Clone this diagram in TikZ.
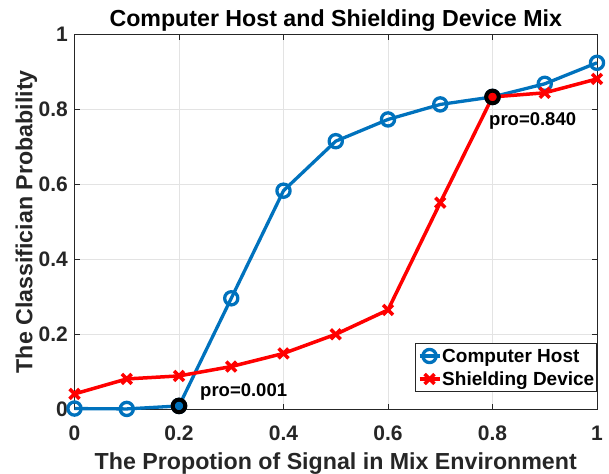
\documentclass[tikz,border=0pt]{standalone}
\usepackage{fontspec}
\setmainfont{Liberation Sans}
\usepackage{tikz}
\usetikzlibrary{plotmarks}

\definecolor{hostblue}{rgb}{0,0.447,0.741}
\definecolor{axisgray}{rgb}{0.15,0.15,0.15}
\definecolor{gridgray}{rgb}{0.89,0.89,0.89}
\newcommand\tickfont{\fontsize{21}{25}\selectfont}
\newcommand\axlabelfont{\fontsize{23.2}{27}\selectfont}
\newcommand\legfont{\fontsize{19}{23}\selectfont}
\newcommand\annfont{\fontsize{18.5}{22}\selectfont}

\begin{document}
\begin{tikzpicture}[x=522.5pt, y=375pt, font=\bfseries,
    hostline/.style={draw=hostblue, line width=3.3pt, line join=round},
    shieldline/.style={draw=red, line width=3.5pt, line join=round},
    axtick/.style={draw=axisgray, line width=0.9pt},
    hilite/.style={draw=black, line width=4pt}]
    \useasboundingbox (-0.1426,-0.1699) rectangle (1.0230,1.0915);
    % grid and box
    \foreach \t in {0.2,0.4,0.6,0.8} {
        \draw[gridgray, line width=0.9pt] (\t,0) -- (\t,1);
        \draw[gridgray, line width=0.9pt] (0,\t) -- (1,\t);
    }
    \draw[axtick] (0,0) rectangle (1,1);
    \foreach \t/\l [count=\i] in {0/0,0.2/0.2,0.4/0.4,0.6/0.6,0.8/0.8,1/1} {
        \draw[axtick] (\t,0) -- ++(0,5.2pt);
        \draw[axtick] (\t,1) -- ++(0,-5.2pt);
        \draw[axtick] (0,\t) -- ++(5.2pt,0);
        \draw[axtick] (1,\t) -- ++(-5.2pt,0);
        \node[anchor=base, inner sep=0, text=axisgray, font=\bfseries\tickfont] (xt\i) at (\t,-0.0819) {\l};
        \node[anchor=east, inner sep=0, text=axisgray, font=\bfseries\tickfont] (yt\i) at ([xshift=-6.5pt]0,\t) {\l};
    }
    \node[anchor=base, inner sep=0, font=\bfseries\axlabelfont] (title) at (0.5,1.0195) {Computer Host and Shielding Device Mix};
    \node[anchor=base, inner sep=0, text=axisgray, font=\bfseries\axlabelfont] (xlabel) at (0.5,-0.1605) {The Propotion of Signal in Mix Environment};
    \node[anchor=base, inner sep=0, rotate=90, text=axisgray, font=\bfseries\axlabelfont] (ylabel) at (-0.0804,0.5) {The Classifician Probability};
    % data
    \draw[hostline] plot[mark=o, mark size=6.6pt] coordinates {
        (0,0.002) (0.1,0.001) (0.2,0.009) (0.3,0.296) (0.4,0.583) (0.5,0.715)
        (0.6,0.773) (0.7,0.813) (0.8,0.833) (0.9,0.868) (1,0.924)};
    \draw[shieldline] plot[mark=x, mark size=7pt] coordinates {
        (0,0.041) (0.1,0.081) (0.2,0.089) (0.3,0.114) (0.4,0.149) (0.5,0.2)
        (0.6,0.265) (0.7,0.551) (0.8,0.833) (0.9,0.844) (1,0.881)};
    \draw[hilite, fill=hostblue] (0.2,0.009) circle (6.3pt);
    \draw[hilite, fill=red] (0.8,0.833) circle (6.3pt);
    \node[anchor=base west, inner sep=0, font=\bfseries\annfont] (lowpro) at (0.2402,0.0336) {pro=0.001};
    \node[anchor=base west, inner sep=0, font=\bfseries\annfont] (highpro) at (0.7933,0.758) {pro=0.840};
    % legend
    \node[draw=axisgray, fill=white, line width=0.9pt, inner sep=0, minimum width=181pt,
        minimum height=48pt, anchor=north east] (legbox) at (1,0.1768) {};
    \draw[hostline] (0.6603,0.1421) -- (0.6996,0.1421);
    \path[hostline] plot[mark=o, mark size=6.6pt] coordinates {(0.6795,0.1421)};
    \draw[shieldline] (0.6603,0.0808) -- (0.6996,0.0808);
    \path[shieldline] plot[mark=x, mark size=7pt] coordinates {(0.6795,0.0808)};
    \node[anchor=base west, inner sep=0, font=\bfseries\legfont] (leghost) at (0.7034,0.124) {Computer Host};
    \node[anchor=base west, inner sep=0, font=\bfseries\legfont] (legshield) at (0.7034,0.0627) {Shielding Device};
\end{tikzpicture}
\end{document}
